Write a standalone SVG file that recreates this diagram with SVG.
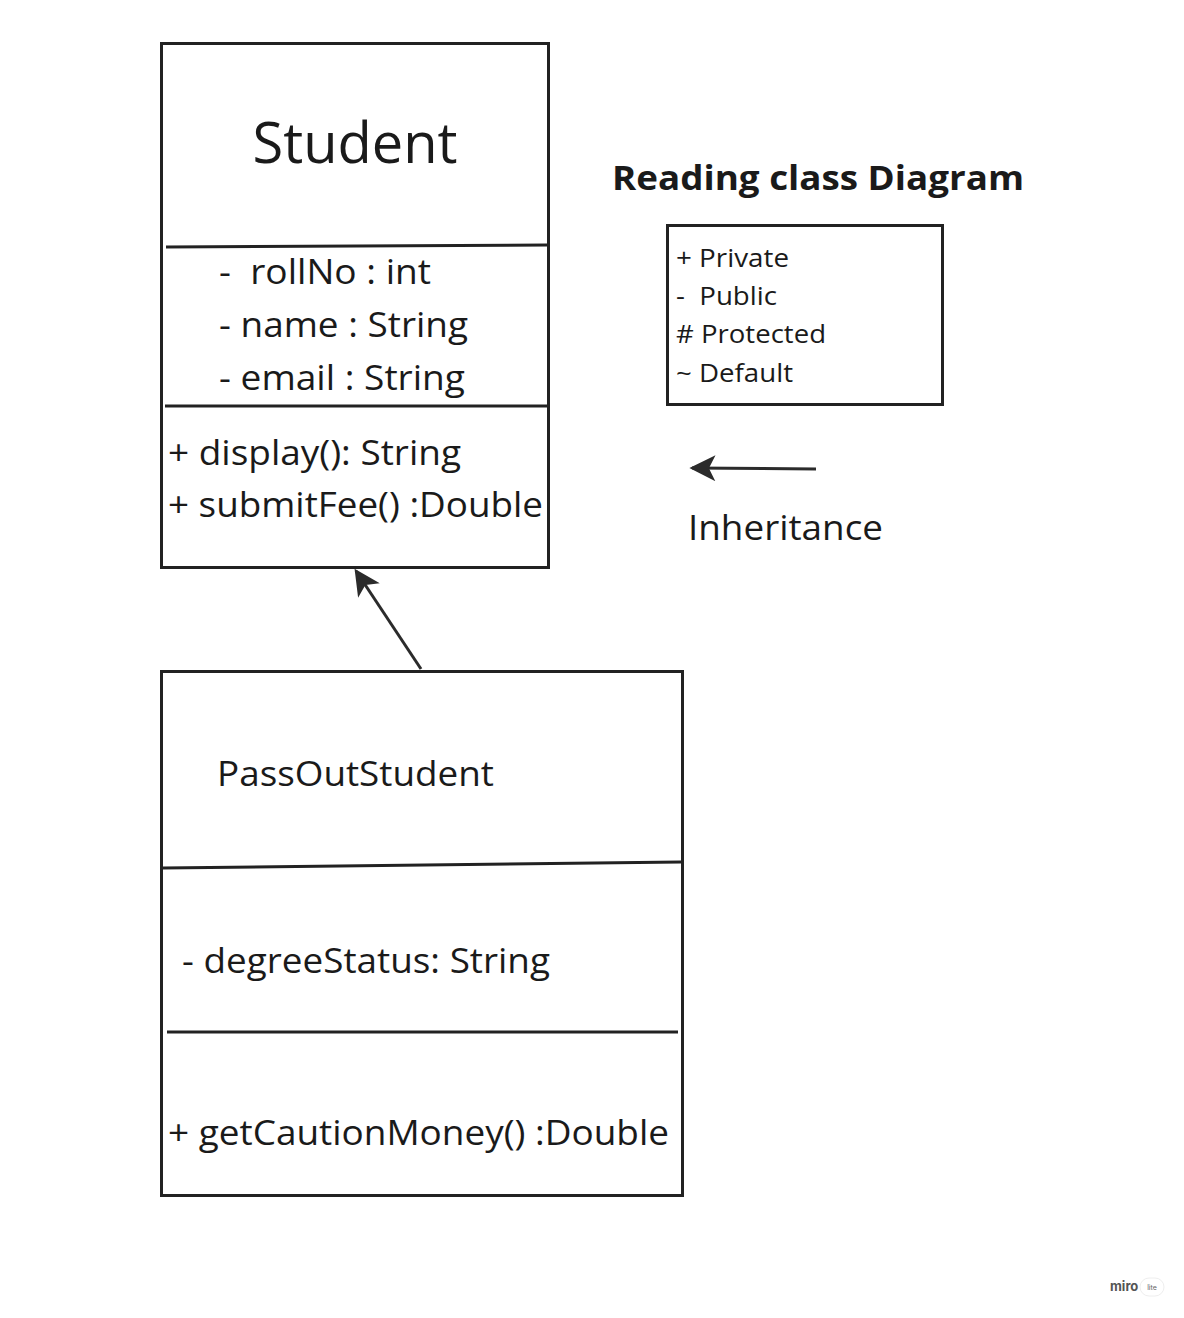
<svg xmlns="http://www.w3.org/2000/svg" width="1184" height="1318" viewBox="0 0 1184 1318">
<defs>
<style>
.box{fill:#fff;stroke:#222;stroke-width:3}
.div{stroke:#222;stroke-width:3;fill:none}
.t{font-family:"Open Sans","Noto Sans",sans-serif;fill:#1a1a1a}
.conn{stroke:#2b2b2b;stroke-width:3;fill:none}
</style>
<marker id="ah2" viewBox="0 0 10 10" refX="9" refY="5" markerWidth="28" markerHeight="26" markerUnits="userSpaceOnUse" orient="auto">
<path d="M0,0 L10,5 L0,10 L2.5,5 Z" fill="#2b2b2b"/>
</marker>
</defs>
<rect width="1184" height="1318" fill="#fff"/>
<g id="student">
<rect class="box" x="161.5" y="43.5" width="387" height="524"/>
<line class="div" x1="166" y1="247" x2="547" y2="245"/>
<line class="div" x1="165" y1="406" x2="547" y2="406"/>
<text class="t" x="355" y="163" font-size="56" text-anchor="middle">Student</text>
<text class="t" x="219" y="284" font-size="34" xml:space="preserve" textLength="212" lengthAdjust="spacingAndGlyphs">-  rollNo : int</text>
<text class="t" x="219" y="337" font-size="34" textLength="249" lengthAdjust="spacingAndGlyphs">- name : String</text>
<text class="t" x="219" y="390" font-size="34" textLength="246" lengthAdjust="spacingAndGlyphs">- email : String</text>
<text class="t" x="168" y="465" font-size="34" textLength="293" lengthAdjust="spacingAndGlyphs">+ display(): String</text>
<text class="t" x="168" y="517" font-size="34" textLength="375" lengthAdjust="spacingAndGlyphs">+ submitFee() :Double</text>
</g>
<g id="title">
<text class="t" x="612" y="190" font-size="34" font-weight="bold" textLength="412" lengthAdjust="spacingAndGlyphs">Reading class Diagram</text>
</g>
<g id="legend">
<rect class="box" x="667.5" y="225.5" width="275" height="179"/>
<text class="t" x="676" y="267" font-size="26" textLength="113" lengthAdjust="spacingAndGlyphs">+ Private</text>
<text class="t" x="676" y="305" font-size="26" xml:space="preserve" textLength="101" lengthAdjust="spacingAndGlyphs">-  Public</text>
<text class="t" x="676" y="343" font-size="26" textLength="150" lengthAdjust="spacingAndGlyphs"># Protected</text>
<text class="t" x="676" y="382" font-size="26" textLength="117" lengthAdjust="spacingAndGlyphs">~ Default</text>
</g>
<g id="inheritance-label">
<text class="t" x="688" y="540" font-size="34" textLength="195" lengthAdjust="spacingAndGlyphs">Inheritance</text>
</g>
<g id="passout">
<rect class="box" x="161.5" y="671.5" width="521" height="524"/>
<line class="div" x1="163" y1="868" x2="681" y2="862"/>
<line class="div" x1="167" y1="1032" x2="678" y2="1032"/>
<text class="t" x="217" y="786" font-size="34" textLength="277" lengthAdjust="spacingAndGlyphs">PassOutStudent</text>
<text class="t" x="182" y="973" font-size="34" textLength="368" lengthAdjust="spacingAndGlyphs">- degreeStatus: String</text>
<text class="t" x="168" y="1145" font-size="34" textLength="501" lengthAdjust="spacingAndGlyphs">+ getCautionMoney() :Double</text>
</g>
<g id="connectors">
<line class="conn" x1="816" y1="469" x2="692" y2="468" marker-end="url(#ah2)"/>
<line class="conn" x1="421" y1="669" x2="356" y2="571" marker-end="url(#ah2)"/>
</g>
<g id="logo">
<text x="1110" y="1291" font-family="Inter,'Noto Sans',sans-serif" font-size="13" font-weight="bold" fill="#555">miro</text>
<rect x="1140" y="1278" width="24" height="18" rx="9" fill="#fff" stroke="#eee"/>
<text x="1152" y="1290" font-family="Inter,'Noto Sans',sans-serif" font-size="7" fill="#666" text-anchor="middle">lite</text>
</g>
</svg>
